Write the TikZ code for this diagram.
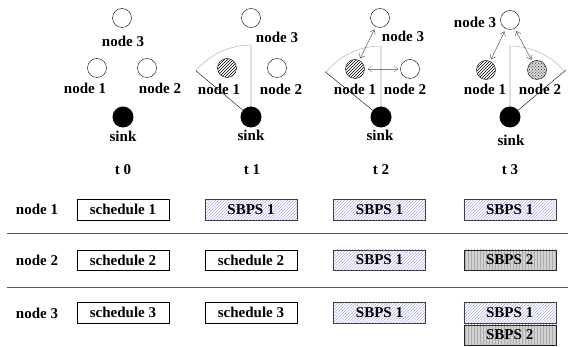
\documentclass[tikz,border=0pt]{standalone}
\usepackage{fontspec}
\setmainfont{Liberation Serif}
\usetikzlibrary{patterns,arrows.meta}
\definecolor{hatchblue}{RGB}{175,175,235}

\begin{document}
\begin{tikzpicture}[x=1pt,y=1pt,
    font=\fontsize{15}{17}\selectfont\bfseries,
    pnode/.style={circle,draw,minimum size=19pt,inner sep=0pt},
    hnode/.style={pnode,pattern=north east lines},
    gnode/.style={pnode,preaction={fill=gray!35},pattern=crosshatch dots,pattern color=gray!60!black},
    snode/.style={circle,fill,minimum size=21pt,inner sep=0pt},
    sched/.style={draw,minimum width=92pt,minimum height=20.5pt,inner sep=0pt},
    sbpsa/.style={sched,draw=black!75,pattern=north east lines,pattern color=hatchblue},
    sbpsb/.style={sched,draw=black!85,preaction={fill=gray!35},pattern=vertical lines,pattern color=gray!65},
    link/.style={{Straight Barb[length=4pt,width=6pt]}-{Straight Barb[length=4pt,width=6pt]},
      thin,black!75,shorten <=3pt,shorten >=2pt},
    sector/.style={gray!70}]
\useasboundingbox (0,0) rectangle (568,-347);

% t 0
\node (a3) [pnode] at (122,-18) {};
\node (a1) [pnode] at (97,-68) {};
\node (a2) [pnode] at (147,-68) {};
\node (as) [snode] at (123,-117) {};
\node (a3l) at (123,-41) {node 3};
\node (a1l) at (85,-88) {node 1};
\node (a2l) at (160,-88) {node 2};
\node (asl) at (123,-136) {sink};
\node (t0) at (123,-170) {t 0};

% t 1
\node (b3) [pnode] at (251,-18) {};
\node (b1) [hnode] at (227,-68) {};
\node (b2) [pnode] at (277,-68) {};
\node (bs) [snode] at (251,-117) {};
\node (b3l) at (277,-37) {node 3};
\node (b1l) at (219,-89) {node 1};
\node (b2l) at (281,-89) {node 2};
\node (bsl) at (251,-135) {sink};
\node (t1) at (252,-170) {t 1};
\draw (bs.center) -- +(90:72) (bs.center) -- +(140:72);
\draw[sector] ([shift={(90:72)}]bs.center) arc (90:140:72);

% t 2
\node (c3) [pnode] at (380,-18) {};
\node (c1) [hnode] at (355,-69) {};
\node (c2) [pnode] at (410,-69) {};
\node (cs) [snode] at (381,-117) {};
\node (c3l) at (403,-36) {node 3};
\node (c1l) at (355,-89) {node 1};
\node (c2l) at (405,-89) {node 2};
\node (csl) at (380,-135) {sink};
\node (t2) at (381,-170) {t 2};
\draw (cs.center) -- +(90:71) (cs.center) -- +(141:72);
\draw[sector] ([shift={(90:71)}]cs.center) arc (90:141:71);
\draw[link] (c3) -- (c1);
\draw[link,gray] (c1) -- (c2);

% t 3
\node (d3) [pnode] at (510,-20) {};
\node (d1) [hnode] at (486,-70) {};
\node (d2) [gnode] at (537,-70) {};
\node (ds) [snode] at (510,-117) {};
\node (d3l) at (475,-22) {node 3};
\node (d1l) at (485,-89) {node 1};
\node (d2l) at (540,-89) {node 2};
\node (dsl) at (511,-140) {sink};
\node (t3) at (510,-170) {t 3};
\draw (ds.center) -- +(90:71) (ds.center) -- +(40:73);
\draw[sector] ([shift={(90:71)}]ds.center) arc (90:40:71);
\draw[link] (d3) -- (d1);
\draw[link] (d3) -- (d2);

% schedules
\node (r1) at (37,-209.5) {node 1};
\node (r2) at (37,-260) {node 2};
\node (r3) at (37,-313) {node 3};

\node (s11) [sched] at (123,-209.7) {schedule 1};
\node (s12) [sbpsa] at (251,-209.7) {SBPS 1};
\node (s13) [sbpsa] at (379.5,-209.7) {SBPS 1};
\node (s14) [sbpsa] at (509.7,-209.7) {SBPS 1};

\node (s21) [sched] at (123,-260) {schedule 2};
\node (s22) [sched] at (251,-260) {schedule 2};
\node (s23) [sbpsa] at (379.5,-260) {SBPS 1};
\node (s24) [sbpsb] at (509.7,-260) {SBPS 2};

\node (s31) [sched] at (123,-312.5) {schedule 3};
\node (s32) [sched] at (251,-312.5) {schedule 3};
\node (s33) [sbpsa] at (379.5,-312.5) {SBPS 1};
\node (s34) [sbpsa] at (509.7,-312.5) {SBPS 1};
\node (s35) [sbpsb] at (509.7,-335) {SBPS 2};

\draw[black!65,line width=0.9pt] (7,-233.3) -- (568,-233.3);
\draw[black!65,line width=0.9pt] (7,-287.7) -- (568,-287.7);
\end{tikzpicture}
\end{document}
